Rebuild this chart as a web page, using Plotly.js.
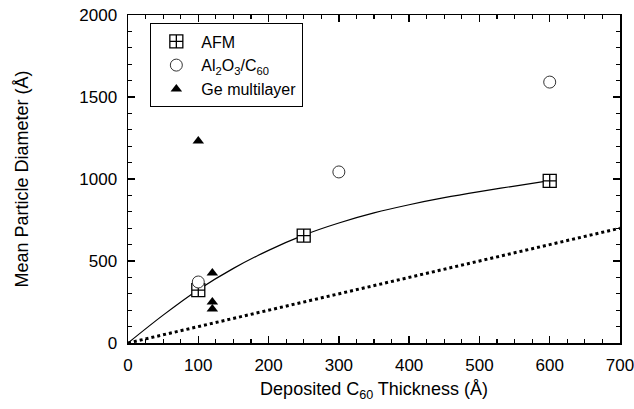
<!DOCTYPE html>
<html>
<head>
<meta charset="utf-8">
<script src="https://cdn.plot.ly/plotly-3.0.1.min.js"></script>
<style>html,body{margin:0;padding:0;background:#fff;}#chart{width:634px;height:409px;}</style>
</head>
<body>
<div id="chart"></div>
<script>
// AFM data
const afmX = [100, 250, 600];
const afmY = [323, 655, 988];
// Al2O3/C60 data
const alX = [100, 300, 600];
const alY = [372, 1043, 1591];
// Ge multilayer data
const geX = [100, 120, 120, 120];
const geY = [1232, 427, 250, 207];
// fitted curve through AFM points
const fitX = [0, 50, 100, 150, 200, 250, 300, 350, 400, 450, 500, 550, 600];
const fitY = [0, 170, 325, 455, 565, 658, 732, 793, 843, 886, 923, 957, 990];
// reference line (diameter = thickness)
const refX = [0, 700];
const refY = [0, 700];

const font = {family: 'Liberation Sans, Arial, Helvetica, sans-serif', color: '#000'};

const traces = [
  {x: refX, y: refY, mode: 'lines', line: {color: '#000', width: 3, dash: 'dot'}, showlegend: false, hoverinfo: 'skip'},
  {x: fitX, y: fitY, mode: 'lines', line: {color: '#000', width: 1.2, shape: 'spline'}, showlegend: false, hoverinfo: 'skip'},
  {x: afmX, y: afmY, mode: 'markers', name: 'AFM',
   marker: {symbol: 'square-cross', size: 13, color: '#fff', line: {color: '#000', width: 1.3}}},
  {x: alX, y: alY, mode: 'markers', name: 'Al<sub>2</sub>O<sub>3</sub>/C<sub>60</sub>',
   marker: {symbol: 'circle', size: 12, color: '#fff', line: {color: '#333', width: 1}}},
  {x: geX, y: geY, mode: 'markers', name: 'Ge multilayer',
   marker: {symbol: 'triangle-up', size: 10, color: '#000', line: {width: 0}}}
];

const axisCommon = {
  showline: true, linecolor: '#000', linewidth: 1.5, mirror: 'ticks',
  ticks: 'inside', ticklen: 7, tickwidth: 1.5, tickcolor: '#000',
  showgrid: false, zeroline: false,
  tickfont: Object.assign({size: 17}, font),
  ticklabelstandoff: 6,
  ticklabeloverflow: 'allow'
};

const layout = {
  width: 634, height: 409,
  margin: {l: 128, r: 14, t: 15, b: 66},
  paper_bgcolor: '#fff', plot_bgcolor: '#fff',
  font: font,
  showlegend: true,
  xaxis: Object.assign({}, axisCommon, {
    range: [0, 700], dtick: 100, tick0: 0,
    minor: {dtick: 25, ticks: 'inside', ticklen: 4, tickwidth: 1.2, tickcolor: '#000', showgrid: false},
    title: {text: 'Deposited C<sub>60</sub> Thickness (Å)', font: Object.assign({size: 18}, font), standoff: 8}
  }),
  yaxis: Object.assign({}, axisCommon, {
    range: [0, 2000], dtick: 500, tick0: 0,
    minor: {dtick: 100, ticks: 'inside', ticklen: 4, tickwidth: 1.2, tickcolor: '#000', showgrid: false},
    title: {text: 'Mean Particle Diameter (Å)', font: Object.assign({size: 18}, font), standoff: 46}
  }),
  legend: {
    x: 0.045, y: 0.975, xanchor: 'left', yanchor: 'top',
    bgcolor: '#fff', bordercolor: '#000', borderwidth: 1.2,
    font: Object.assign({size: 16}, font),
    itemwidth: 40,
    tracegroupgap: 0
  }
};

Plotly.newPlot('chart', traces, layout, {displayModeBar: false, staticPlot: true});
</script>
</body>
</html>
